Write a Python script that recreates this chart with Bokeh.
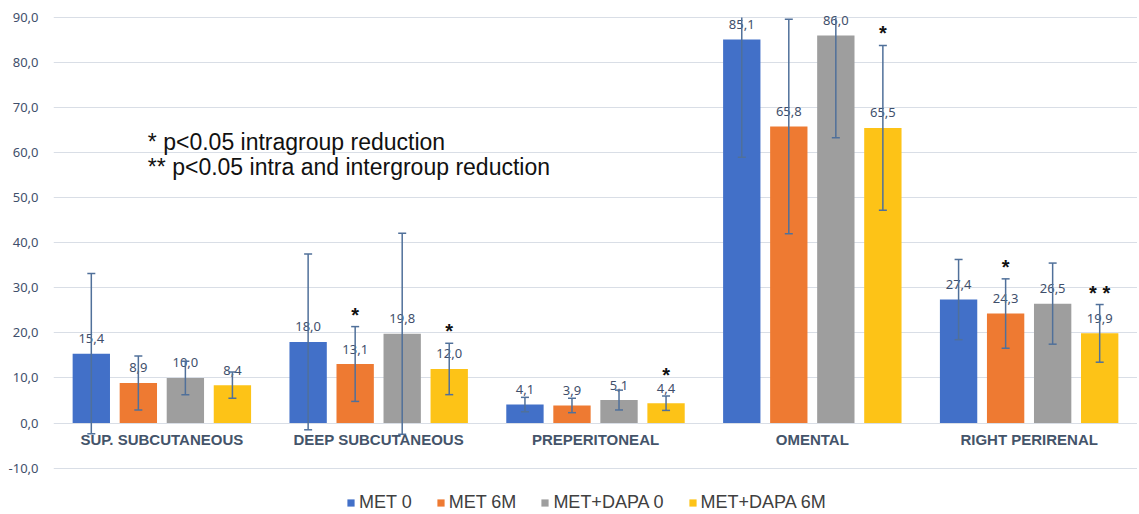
import numpy as np
from bokeh.plotting import figure
from bokeh.models import (FactorRange, Range1d, FixedTicker, ColumnDataSource,
                          Whisker, TeeHead)
from bokeh.core.properties import value
from bokeh.embed import file_html
from bokeh.resources import INLINE

# ---------------- data ----------------
categories = ["SUP. SUBCUTANEOUS", "DEEP SUBCUTANEOUS", "PREPERITONEAL",
              "OMENTAL", "RIGHT PERIRENAL"]
series = ["MET 0", "MET 6M", "MET+DAPA 0", "MET+DAPA 6M"]

met0_mean = [15.4, 18.0, 4.1, 85.1, 27.4]
met0_sd = [17.8, 19.5, 1.6, 26.1, 8.9]
met6m_mean = [8.9, 13.1, 3.9, 65.8, 24.3]
met6m_sd = [6.0, 8.3, 1.6, 23.8, 7.7]
dapa0_mean = [10.0, 19.8, 5.1, 86.0, 26.5]
dapa0_sd = [3.7, 22.3, 2.2, 22.7, 9.0]
dapa6m_mean = [8.4, 12.0, 4.4, 65.5, 19.9]
dapa6m_sd = [2.9, 5.7, 1.6, 18.3, 6.4]

# significance marks ("*" intragroup, "**" intra and intergroup)
met0_sig = ["", "", "", "", ""]
met6m_sig = ["", "*", "", "", "*"]
dapa0_sig = ["", "", "", "", ""]
dapa6m_sig = ["", "*", "*", "*", "**"]

y_ticks = [-10, 0, 10, 20, 30, 40, 50, 60, 70, 80, 90]

note_lines = ["* p<0.05 intragroup reduction",
              "** p<0.05 intra and intergroup reduction"]

means = [met0_mean, met6m_mean, dapa0_mean, dapa6m_mean]
sds = [met0_sd, met6m_sd, dapa0_sd, dapa6m_sd]
sigs = [met0_sig, met6m_sig, dapa0_sig, dapa6m_sig]
colors = ["#4270C8", "#EE7A32", "#9E9E9E", "#FDC317"]

TXT = "#3F4F6B"
ERR = "#50709A"

factors = [(c, s) for c in categories for s in series]
x_range = FactorRange(*factors, factor_padding=0.0, group_padding=0.61,
                      range_padding=0.304, range_padding_units="absolute")

p = figure(width=1137, height=514, x_range=x_range,
           y_range=Range1d(-20.3, 92),
           output_backend="svg", toolbar_location=None,
           x_axis_location=None,
           min_border_left=53, min_border_right=0,
           min_border_top=8, min_border_bottom=0)
p.outline_line_color = None
p.background_fill_color = "white"
p.border_fill_color = "white"

# y axis
p.yaxis.ticker = FixedTicker(ticks=y_ticks)
p.yaxis.major_label_overrides = {t: f"{t:.1f}".replace(".", ",") for t in y_ticks}
p.yaxis.axis_line_color = None
p.yaxis.major_tick_line_color = None
p.yaxis.minor_tick_line_color = None
p.yaxis.major_tick_out = 0
p.yaxis.major_tick_in = 0
p.yaxis.major_label_standoff = 15
p.yaxis.major_label_text_font = "Noto Sans"
p.yaxis.major_label_text_font_size = "13px"
p.yaxis.major_label_text_color = TXT
p.ygrid.ticker = FixedTicker(ticks=y_ticks)
p.ygrid.grid_line_color = "#D9DEE6"
p.ygrid.grid_line_width = 1
p.xgrid.grid_line_color = None

y_max = max(y_ticks)
capped_rows = {"x": [], "upper": [], "lower": []}
open_rows = {"x": [], "upper": [], "lower": []}

for s, m, sd, sig, col in zip(series, means, sds, sigs, colors):
    xs = [(c, s) for c in categories]
    m = np.array(m)
    sd = np.array(sd)
    p.vbar(x=xs, top=m, bottom=0, width=0.794, fill_color=col,
           line_color=None, legend_label=s)
    # value labels
    p.text(x=xs, y=m, text=[f"{v:.1f}".replace(".", ",") for v in m],
           text_font=value("Noto Sans"), text_font_size="13px",
           text_color=TXT, text_align="center", text_baseline="middle",
           y_offset=-15)
    up = m + sd
    lo = m - sd
    for xi, u, l in zip(xs, up, lo):
        if u <= y_max:
            capped_rows["x"].append(xi)
            capped_rows["upper"].append(u)
            capped_rows["lower"].append(l)
        else:
            open_rows["x"].append(xi)
            open_rows["upper"].append(y_max)
            open_rows["lower"].append(l)
    # significance marks
    sx, sy, st = [], [], []
    for xi, mm, u, g in zip(xs, m, up, sig):
        if g:
            sx.append(xi)
            sy.append(max(u, mm + 3.5))
            st.append(" ".join(g))
    if sx:
        p.text(x=sx, y=sy, text=st, text_font=value("Liberation Sans"),
               text_font_style="bold", text_font_size="20px",
               text_color="#111111", text_align="center",
               text_baseline="middle", y_offset=-12)

w1 = Whisker(source=ColumnDataSource(capped_rows), base="x", upper="upper",
             lower="lower", dimension="height", line_color=ERR, line_width=1.5,
             upper_head=TeeHead(size=8, line_color=ERR, line_width=1.5),
             lower_head=TeeHead(size=8, line_color=ERR, line_width=1.5),
             level="annotation")
w2 = Whisker(source=ColumnDataSource(open_rows), base="x", upper="upper",
             lower="lower", dimension="height", line_color=ERR, line_width=1.5,
             upper_head=None,
             lower_head=TeeHead(size=8, line_color=ERR, line_width=1.5),
             level="annotation")
p.add_layout(w1)
p.add_layout(w2)

# category labels beneath the zero line
p.text(x=categories, y=[0] * len(categories), text=categories,
       text_font=value("Liberation Sans"), text_font_style="bold",
       text_font_size="15px", text_color="#44546A", text_align="center",
       text_baseline="middle", y_offset=16)

# significance note
p.text(x=[categories[0], categories[0]], y=[62.4, 56.9], text=note_lines,
       text_font=value("Liberation Sans"), text_font_size="23px",
       text_color="#111111", text_align="left", text_baseline="middle",
       x_offset=-14)

# legend
lg = p.legend[0]
lg.orientation = "horizontal"
lg.location = (293, 1)
lg.glyph_width = 9
lg.glyph_height = 9
lg.label_standoff = 4
lg.spacing = 24
lg.padding = 0
lg.margin = 0
lg.border_line_color = None
lg.background_fill_alpha = 0
lg.label_text_font = "Liberation Sans"
lg.label_text_font_size = "18px"
lg.label_text_color = "#404040"
lg.label_height = 20

open("out.html", "w").write(file_html(p, INLINE))
